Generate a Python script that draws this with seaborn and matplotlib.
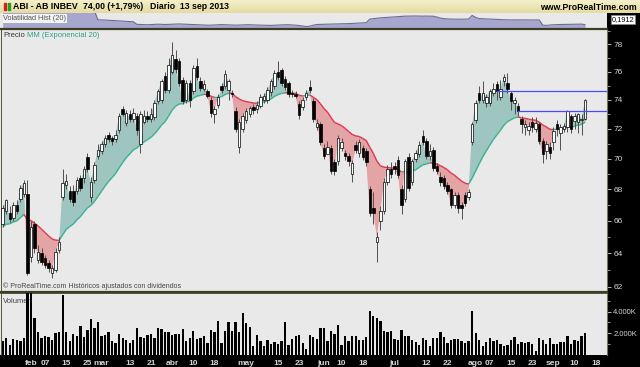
import numpy as np
import pandas as pd
import matplotlib
matplotlib.use("Agg")
import matplotlib.pyplot as plt
import seaborn as sns
from matplotlib.patches import Rectangle
from matplotlib.collections import LineCollection
from matplotlib.colors import LinearSegmentedColormap
from matplotlib.ticker import FixedLocator, NullFormatter

sns.set_style("white")
plt.rcParams['font.family'] = ['Liberation Sans', 'DejaVu Sans']

# ---------------- data ----------------
opens = [65.8, 66.6, 66.5, 66.2, 67.0, 67.4, 67.7, 67.7, 63.8, 65.8,
         63.6, 64.0, 63.7, 63.4, 62.8, 63.0, 64.2, 67.5, 68.3, 67.9,
         67.9, 67.9, 68.7, 68.7, 70.1, 67.5, 68.6, 70.2, 70.5, 71.0,
         71.6, 71.4, 71.3, 71.9, 73.35, 72.4, 73.0, 72.7, 72.9, 71.0,
         72.5, 72.9, 72.7, 72.8, 73.9, 74.0, 75.7, 74.7, 76.0, 76.9,
         76.8, 75.4, 74.0, 75.2, 74.6, 76.4, 75.35, 74.8, 74.6, 74.0,
         73.0, 73.65, 74.95, 74.95, 74.7, 74.5, 73.2, 70.8, 72.0, 72.6,
         73.0, 73.5, 73.35, 73.6, 74.0, 74.0, 74.55, 75.0, 75.95, 76.1,
         75.5, 75.2, 74.5, 74.4, 73.7, 73.5, 74.2, 74.9, 73.9, 72.1,
         72.3, 70.7, 70.3, 70.7, 69.8, 69.85, 70.7, 70.4, 70.2, 69.0,
         70.9, 70.4, 70.7, 70.5, 68.0, 66.8, 64.7, 66.0, 66.6, 68.5,
         69.3, 69.5, 69.9, 68.0, 67.4, 70.1, 68.5, 70.0, 70.3, 71.5,
         71.2, 70.2, 70.6, 69.5, 68.8, 68.7, 68.3, 68.0, 67.0, 67.6,
         67.0, 67.6, 67.5, 71.1, 72.6, 74.5, 74.0, 73.75, 73.8, 74.45,
         75.1, 74.2, 75.3, 75.2, 74.45, 73.75, 73.6, 72.7, 72.1, 71.9,
         72.5, 72.0, 72.35, 71.2, 70.5, 70.8, 71.1, 72.35, 71.7, 72.0,
         72.1, 72.9, 72.55, 72.5, 72.6, 72.7]
highs = [67.0, 67.4, 66.9, 67.2, 67.3, 68.3, 68.6, 68.6, 66.0, 66.0,
         64.5, 64.3, 63.9, 63.6, 63.3, 64.3, 65.0, 69.3, 69.0, 68.2,
         68.3, 68.8, 68.9, 69.5, 70.4, 68.8, 69.8, 71.0, 71.2, 71.6,
         71.8, 71.5, 71.9, 73.1, 73.6, 73.3, 73.3, 73.4, 73.1, 73.2,
         73.3, 73.2, 73.4, 74.0, 74.8, 75.5, 76.0, 77.0, 78.2, 77.6,
         77.0, 75.6, 75.4, 75.4, 76.5, 77.0, 75.6, 75.4, 74.8, 74.2,
         73.6, 74.4, 75.2, 76.1, 75.5, 74.7, 73.5, 72.7, 73.1, 73.4,
         73.6, 73.7, 73.9, 74.4, 74.5, 74.9, 75.5, 76.1, 76.8, 76.3,
         75.7, 75.3, 74.7, 74.6, 73.9, 74.2, 74.7, 75.4, 74.1, 72.7,
         72.5, 71.0, 71.2, 70.9, 70.0, 71.6, 71.4, 70.6, 70.4, 69.9,
         71.2, 71.3, 70.9, 70.7, 68.2, 67.8, 65.3, 66.9, 68.7, 69.6,
         69.8, 69.8, 70.2, 68.3, 70.0, 70.4, 70.0, 70.6, 71.2, 71.9,
         71.4, 71.0, 70.8, 69.7, 69.1, 68.9, 68.5, 68.1, 67.8, 67.8,
         67.2, 67.8, 68.0, 72.5, 74.0, 75.0, 75.3, 74.4, 74.8, 75.2,
         75.3, 75.4, 75.8, 75.9, 74.6, 74.2, 73.8, 72.9, 72.6, 72.5,
         72.8, 72.8, 72.5, 71.4, 71.2, 71.1, 72.1, 72.6, 72.3, 72.4,
         73.3, 73.0, 73.1, 73.1, 73.0, 74.05]
lows = [65.6, 66.4, 65.9, 66.0, 66.4, 67.2, 67.5, 62.7, 63.5, 64.0,
        63.4, 63.3, 63.1, 62.9, 62.5, 62.9, 64.0, 67.3, 68.0, 67.2,
        66.9, 67.7, 67.9, 68.4, 69.1, 67.2, 68.4, 70.0, 70.3, 70.8,
        71.1, 70.9, 71.1, 71.7, 72.9, 72.2, 72.5, 72.5, 71.6, 70.4,
        72.3, 72.5, 72.5, 72.6, 73.7, 73.8, 74.5, 74.5, 75.8, 75.9,
        75.0, 73.7, 73.8, 73.5, 74.4, 75.4, 74.6, 74.6, 74.1, 72.8,
        72.4, 73.4, 74.5, 74.8, 74.0, 74.2, 71.8, 70.4, 71.8, 72.4,
        72.8, 73.0, 73.1, 73.4, 73.8, 73.8, 74.3, 74.8, 75.4, 75.0,
        74.7, 74.2, 74.2, 74.1, 72.7, 73.3, 74.0, 74.5, 72.5, 71.9,
        70.9, 70.0, 70.3, 69.0, 68.9, 69.6, 70.5, 69.9, 69.5, 68.5,
        70.4, 70.1, 69.9, 69.5, 66.3, 65.8, 63.5, 65.4, 66.4, 68.3,
        68.7, 69.0, 68.7, 66.4, 67.2, 67.9, 68.3, 69.8, 70.1, 70.9,
        70.0, 69.9, 69.2, 69.0, 68.2, 68.0, 67.7, 66.8, 66.8, 66.5,
        66.1, 66.9, 67.3, 70.9, 72.4, 73.8, 73.8, 73.5, 73.6, 74.3,
        74.0, 74.0, 75.0, 74.5, 73.3, 73.0, 72.9, 71.7, 71.6, 71.6,
        71.8, 71.8, 71.0, 69.7, 70.0, 70.0, 70.6, 71.5, 70.6, 71.8,
        71.8, 71.7, 72.0, 71.7, 71.6, 72.6]
closes = [66.8, 67.3, 66.1, 67.0, 66.6, 68.1, 68.4, 62.8, 65.6, 64.3,
          64.1, 63.5, 63.3, 63.1, 63.1, 64.1, 64.7, 68.4, 68.55, 67.4,
          67.2, 68.6, 68.1, 69.3, 69.3, 68.5, 69.6, 70.6, 71.0, 71.4,
          71.3, 71.2, 71.6, 72.9, 73.0, 73.1, 72.7, 73.1, 71.9, 73.0,
          72.9, 72.7, 73.0, 73.8, 74.6, 75.3, 74.7, 76.5, 77.2, 76.2,
          75.2, 73.9, 75.2, 74.0, 76.3, 75.6, 74.85, 75.1, 74.3, 73.1,
          73.35, 74.2, 74.7, 75.8, 75.3, 74.4, 72.0, 72.5, 72.9, 73.2,
          73.4, 73.3, 73.65, 74.2, 74.3, 74.7, 75.3, 75.9, 75.6, 75.2,
          74.9, 74.4, 74.4, 74.3, 72.95, 74.0, 74.5, 74.7, 72.7, 72.4,
          71.1, 70.2, 70.8, 69.2, 69.2, 71.4, 71.1, 70.2, 69.85, 69.7,
          70.6, 71.1, 70.1, 69.8, 66.5, 66.5, 65.0, 66.6, 68.5, 69.3,
          69.0, 69.3, 68.9, 67.0, 69.85, 68.1, 69.85, 70.4, 70.9, 71.1,
          70.2, 70.5, 69.4, 69.2, 68.5, 68.2, 67.9, 67.0, 67.6, 66.8,
          66.8, 67.1, 67.8, 72.3, 73.8, 74.0, 74.5, 74.2, 74.6, 74.8,
          74.65, 74.8, 75.6, 74.8, 73.9, 74.0, 73.24, 72.3, 72.35, 72.2,
          72.1, 72.4, 71.2, 70.3, 71.0, 70.4, 71.85, 72.0, 72.1, 72.2,
          73.2, 72.0, 72.9, 73.0, 72.7, 74.0]
volumes_k = [1266, 1570, 925, 1480, 1420, 1266, 1570, 6500, 6000, 3400,
             2090, 1570, 1720, 1690, 1360, 2060, 2120, 5560, 2150, 1330,
             1940, 1720, 2640, 1660, 2310, 3290, 2520, 3070, 1720, 1810,
             2120, 1330, 1140, 1940, 1540, 1390, 1110, 1360, 2520, 1660,
             1540, 1840, 1940, 1570, 2490, 2370, 2150, 2150, 1810, 1970,
             1970, 2370, 1330, 1570, 2240, 1480, 1540, 1720, 1140, 2310,
             2150, 3130, 1080, 2240, 3000, 2180, 3070, 2090, 3870, 2920,
             2610, 870, 1840, 1330, 840, 1390, 1020, 1200, 1020, 1330,
             3070, 900, 1480, 1720, 1870, 1140, 530, 1870, 1630, 1480,
             2490, 2460, 1330, 2180, 1940, 2760, 925, 1780, 1330, 1720,
             1780, 1360, 1390, 1690, 4030, 3630, 3410, 3170, 2240, 2120,
             2240, 1510, 1360, 2340, 1780, 1780, 1390, 1170, 960, 1600,
             1390, 870, 1540, 1540, 2150, 1690, 1140, 1390, 1480, 1450,
             1300, 1080, 1330, 4030, 2060, 1420, 870, 1230, 1570, 1330,
             1360, 1020, 870, 960, 1420, 1660, 990, 1230, 1080, 1200,
             1020, 400, 1570, 1420, 1020, 1570, 1020, 1020, 1230, 1230,
             1780, 1050, 1420, 1260, 1750, 2000]
hist_vol = [0.36, 0.36, 0.36, 0.36, 0.36, 0.36, 0.36, 0.36, 0.36, 0.36,
            0.36, 0.36, 0.36, 0.36, 0.36, 0.36, 0.36, 0.36, 0.36, 0.36,
            0.36, 0.36, 0.36, 0.36, 0.36, 0.36, 0.36,
            0.25, 0.25, 0.248, 0.245, 0.243, 0.24, 0.238, 0.235, 0.232, 0.23, 0.227,
            0.195, 0.193, 0.19, 0.19, 0.192, 0.195, 0.197, 0.195, 0.193, 0.195,
            0.197, 0.198, 0.2, 0.198, 0.196, 0.195, 0.193, 0.19, 0.188, 0.186,
            0.185, 0.185, 0.187, 0.19, 0.192, 0.19, 0.188, 0.186, 0.185, 0.186,
            0.188, 0.19, 0.19, 0.188, 0.186, 0.185, 0.184, 0.183, 0.182, 0.184,
            0.186, 0.188, 0.19, 0.19, 0.188, 0.185, 0.18, 0.175,
            0.168, 0.172, 0.185, 0.193,
            0.195, 0.196, 0.197, 0.198, 0.199, 0.2, 0.201, 0.203, 0.204, 0.206,
            0.208, 0.21, 0.213,
            0.215, 0.26, 0.265, 0.27, 0.275, 0.278, 0.282, 0.285, 0.288, 0.291,
            0.294, 0.296,
            0.297, 0.298, 0.298, 0.297, 0.296, 0.297, 0.296, 0.295,
            0.285, 0.272, 0.265, 0.262, 0.26, 0.26, 0.259, 0.258, 0.26, 0.261,
            0.305, 0.28, 0.266, 0.264, 0.262, 0.26, 0.258, 0.256, 0.254, 0.252,
            0.25, 0.25, 0.251, 0.25, 0.25, 0.25, 0.249, 0.25, 0.25, 0.249,
            0.185, 0.182, 0.186, 0.19, 0.192, 0.193, 0.194, 0.195, 0.196, 0.197,
            0.198, 0.198, 0.1912]
ema_seed = 65.5
ema_span = 20
tick_pos = [8, 12, 18, 24, 28, 36, 42, 48, 54, 60, 69, 78, 84, 91, 96, 102,
            111, 120, 126, 134, 138, 144, 150, 156, 162, 168]
tick_labels = ['feb', '07', '15', '25', 'mar', '13', '21', 'abr', '10', '18',
               'may', '15', '23', 'jun', '10', '18', 'jul', '12', '22', 'ago',
               '07', '15', '23', 'sep', '10', '18']
price_ticks = [62, 64, 66, 68, 70, 72, 74, 76, 78]
price_minor = [63, 65, 67, 69, 71, 73, 75, 77, 79]
vol_ticks = [2000, 4000]
vol_tick_labels = ['2.000K', '4.000K']
resist_start, resist_level = 140, 74.65
support_start, support_level = 146, 73.24

# ---------------- derived ----------------
n = len(closes)
df = pd.DataFrame({'x': np.arange(n), 'open': opens, 'high': highs,
                   'low': lows, 'close': closes, 'vol': volumes_k,
                   'hv': hist_vol})
alpha = 2.0 / (ema_span + 1)
ema = []
e = ema_seed
for c in closes:
    e = e + alpha * (c - e)
    ema.append(e)
df['ema'] = ema

W, H = 640, 367
def rect(x0, y0, x1, y1):
    return [x0 / W, 1 - y1 / H, (x1 - x0) / W, (y1 - y0) / H]

XL = (-0.48, 171.2)
BG = '#e9e9e9'
LIGHT = '#d4d4d4'
SEP = '#3d3d22'

fig = plt.figure(figsize=(6.4, 3.67), dpi=100)
fig.patch.set_facecolor(BG)
fig.patches.append(Rectangle((607 / W, 0), 33 / W, 1 - 13 / H,
                             transform=fig.transFigure, color='black', zorder=-5))
fig.patches.append(Rectangle((0, 0), 1, 12 / H, transform=fig.transFigure,
                             color='black', zorder=-5))

# ---------------- title bar ----------------
ax_t = fig.add_axes(rect(0, 0, 640, 13))
grad = np.linspace(0, 1, 20).reshape(-1, 1)
cm = LinearSegmentedColormap.from_list('tb', ['#f3efc9', '#e4dca2'])
ax_t.imshow(grad, aspect='auto', cmap=cm, extent=(0, 1, 0, 1))
ax_t.set_xlim(0, 1); ax_t.set_ylim(0, 1)
ax_t.axis('off')
ax_t.add_patch(Rectangle((4 / W, 0.25), 2 / W, 0.5, color='#d02020'))
ax_t.add_patch(Rectangle((7.5 / W, 0.2), 2 / W, 0.6, color='#20a020'))
tkw = dict(fontsize=6.3, fontweight='bold', va='center', color='black')
ax_t.text(13 / W, 0.5, 'ABI - AB INBEV', **tkw)
ax_t.text(83 / W, 0.5, '74,00 (+1,79%)', **tkw)
ax_t.text(150 / W, 0.5, 'Diario  13 sep 2013', **tkw)
ax_t.text(637 / W, 0.45, 'www.ProRealTime.com', ha='right', **tkw)

# ---------------- volatility panel ----------------
ax_v = fig.add_axes(rect(1, 13, 607, 28))
ax_v.set_facecolor(BG)
ax_v.fill_between(df['x'], df['hv'], 0, color='#a6a6cf', lw=0)
sns.lineplot(data=df, x='x', y='hv', ax=ax_v, color='#6c6c92', lw=0.8)
ax_v.set_xlim(*XL); ax_v.set_ylim(0.15, 0.335)
ax_v.set_xticks([]); ax_v.set_yticks([])
ax_v.set_xlabel(''); ax_v.set_ylabel('')
for s in ax_v.spines.values():
    s.set_visible(False)
ax_v.text(0.004, 0.62, 'Volatilidad Hist (20)', transform=ax_v.transAxes,
          fontsize=5.3, color='#555555', va='center',
          bbox=dict(boxstyle='square,pad=0.1', fc='#f4f4f4', ec='none'))
fig.text(623 / W, 1 - 19.5 / H, '0,1912', fontsize=5.3, ha='center', va='center',
         color='black', bbox=dict(boxstyle='square,pad=0.15', fc='white', ec='#888888', lw=0.5))

# ---------------- price panel ----------------
ax_p = fig.add_axes(rect(1, 28.5, 607, 291.5))
ax_p.set_facecolor(BG)
ax_p.set_yscale('log')
x = df['x'].values
cl = df['close'].values
em = df['ema'].values
ax_p.fill_between(x, cl, em, where=cl >= em, interpolate=True,
                  color='#9fc5c0', lw=0, zorder=1)
ax_p.fill_between(x, cl, em, where=cl < em, interpolate=True,
                  color='#e4a3a5', lw=0, zorder=1)
segs, cols = [], []
for i in range(n - 1):
    segs.append([(x[i], em[i]), (x[i + 1], em[i + 1])])
    cols.append('#33b38c' if cl[i + 1] >= em[i + 1] else '#e03550')
ax_p.add_collection(LineCollection(segs, colors=cols, lw=1.0, zorder=2))

bw = 0.7
for i in range(n):
    o, h, l, c = opens[i], highs[i], lows[i], closes[i]
    ax_p.plot([i, i], [min(l, o, c), max(h, o, c)], color='#505050', lw=0.7,
              zorder=3, solid_capstyle='butt')
    lo, hi = min(o, c), max(o, c)
    if hi - lo < 0.06:
        hi = lo + 0.06
    ax_p.add_patch(Rectangle((i - bw / 2, lo), bw, hi - lo,
                             fc='white' if c >= o else 'black',
                             ec='black', lw=0.5, zorder=4))

ax_p.plot([resist_start, XL[1]], [resist_level, resist_level], color='#4a4aff', lw=0.9, zorder=5)
ax_p.plot([support_start, XL[1]], [support_level, support_level], color='#4a4aff', lw=0.9, zorder=5)

ax_p.set_xlim(*XL)
ax_p.set_ylim(61.73, 79.17)
ax_p.yaxis.tick_right()
ax_p.yaxis.set_major_locator(FixedLocator(price_ticks))
ax_p.yaxis.set_minor_locator(FixedLocator(price_minor))
ax_p.set_yticklabels([str(t) for t in price_ticks])
ax_p.yaxis.set_minor_formatter(NullFormatter())
ax_p.tick_params(axis='y', which='major', direction='out', length=3, width=0.6,
                 color=LIGHT, labelcolor=LIGHT, labelsize=6, pad=1.5, right=True, left=False)
ax_p.tick_params(axis='y', which='minor', direction='out', length=2, width=0.5,
                 color=LIGHT, right=True, left=False)
ax_p.set_xticks([])
for k, s in ax_p.spines.items():
    s.set_color(SEP)
ax_p.spines['top'].set_linewidth(1.6)
ax_p.spines['bottom'].set_linewidth(1.6)
ax_p.spines['left'].set_linewidth(0.6)
ax_p.spines['right'].set_linewidth(0.8)
ax_p.spines['right'].set_color('#77775a')
ax_p.text(0.004, 0.975, 'Precio', transform=ax_p.transAxes, fontsize=5.5,
          color='#333333', va='center')
ax_p.text(26 / 606, 0.975, 'MM (Exponencial 20)', transform=ax_p.transAxes,
          fontsize=5.5, color='#2e9e86', va='center')
ax_p.text(0.004, 0.02, '\u00a9 ProRealTime.com Hist\u00f3ricos ajustados con dividendos',
          transform=ax_p.transAxes, fontsize=5.0, color='#444444', va='center')

# ---------------- volume panel ----------------
ax_b = fig.add_axes(rect(1, 292.5, 607, 355))
ax_b.set_facecolor(BG)
ax_b.text(0.004, 0.86, 'Volumen', transform=ax_b.transAxes, fontsize=5.5,
          color='#444444', va='center', zorder=0)
ax_b.bar(df['x'], df['vol'], width=0.66, color='black', lw=0, zorder=3)
ax_b.set_xlim(*XL)
ax_b.set_ylim(0, 5750)
ax_b.yaxis.tick_right()
ax_b.yaxis.set_major_locator(FixedLocator(vol_ticks))
ax_b.yaxis.set_minor_locator(FixedLocator([1000, 3000, 5000]))
ax_b.set_yticklabels(vol_tick_labels)
ax_b.yaxis.set_minor_formatter(NullFormatter())
ax_b.tick_params(axis='y', which='major', direction='out', length=3, width=0.6,
                 color=LIGHT, labelcolor=LIGHT, labelsize=5.5, pad=1.5)
ax_b.tick_params(axis='y', which='minor', direction='out', length=2, width=0.5, color=LIGHT)
ax_b.set_xticks(tick_pos)
ax_b.set_xticklabels(tick_labels)
ax_b.tick_params(axis='x', direction='out', length=2, width=0.6, color=LIGHT,
                 labelcolor=LIGHT, labelsize=6, pad=1.5)
for lbl in ax_b.get_xticklabels():
    lbl.set_fontweight('bold')
for k, s in ax_b.spines.items():
    s.set_color(SEP)
ax_b.spines['top'].set_linewidth(1.2)
ax_b.spines['bottom'].set_visible(False)
ax_b.spines['left'].set_linewidth(0.6)
ax_b.spines['right'].set_color('#77775a')
ax_b.spines['right'].set_linewidth(0.8)

fig.savefig('out.png', dpi=100, facecolor=fig.get_facecolor())
